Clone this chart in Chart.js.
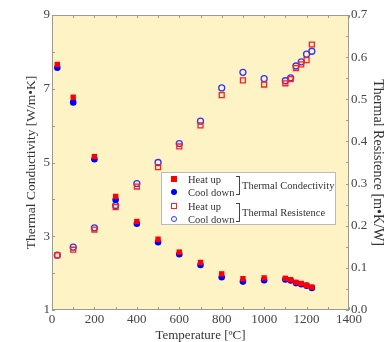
<!DOCTYPE html>
<html>
<head>
<meta charset="utf-8">
<script src="https://cdn.jsdelivr.net/npm/chart.js@4"></script>
<style>
  body { margin: 0; background: #fff; }
  #wrap { position: relative; width: 384px; height: 342px; }
  #legend {
    position: absolute; left: 161px; top: 172px; width: 175px; height: 53px;
    box-sizing: border-box; background: #fff; border: 1px solid #bbb;
    font: 10.5px "Liberation Serif", "DejaVu Serif", serif; color: #333;
  }
  #legend .mk { position: absolute; box-sizing: border-box; }
  #legend .txt { position: absolute; left: 26px; height: 13px; line-height: 13px; white-space: nowrap; }
  #legend .br { position: absolute; left: 74px; width: 4px; box-sizing: border-box;
    border: 1px solid #444; border-left: none; }
  #legend .grp { position: absolute; left: 80px; height: 13px; line-height: 13px; white-space: nowrap; }
</style>
</head>
<body>
<div id="wrap">
  <canvas id="chart" width="384" height="342"></canvas>
  <div id="legend">
    <div class="mk" style="left:9px;top:3px;width:6px;height:6px;background:#f00;"></div>
    <div class="txt" style="top:0px;">Heat up</div>
    <div class="mk" style="left:9px;top:16px;width:6px;height:6px;border-radius:50%;background:#00f;"></div>
    <div class="txt" style="top:13px;">Cool down</div>
    <div class="br" style="top:3px;height:19px;"></div>
    <div class="grp" style="top:6px;">Thermal Condectivity</div>

    <div class="mk" style="left:9px;top:30px;width:6px;height:6px;border:1.5px solid #f22;"></div>
    <div class="txt" style="top:27px;">Heat up</div>
    <div class="mk" style="left:9px;top:43px;width:6px;height:6px;border-radius:50%;border:1.5px solid #33f;"></div>
    <div class="txt" style="top:40px;">Cool down</div>
    <div class="br" style="top:30px;height:19px;"></div>
    <div class="grp" style="top:33px;">Thermal Resistence</div>
  </div>
</div>
<script>
// temperatures [°C]
const temps = [25, 100, 200, 300, 400, 500, 600, 700, 800, 900, 1000, 1100, 1125, 1150, 1175, 1200, 1225];

// thermal conductivity [W/m·K]
const kHeat = [7.66, 6.77, 5.16, 4.08, 3.40, 2.92, 2.57, 2.29, 1.98, 1.85, 1.87, 1.86, 1.82, 1.75, 1.72, 1.67, 1.62];
const kCool = [7.57, 6.63, 5.09, 3.99, 3.34, 2.84, 2.51, 2.22, 1.89, 1.77, 1.81, 1.83, 1.80, 1.73, 1.70, 1.66, 1.60];

// thermal resistance [m·K/W]
const rHeat = [0.130, 0.143, 0.191, 0.244, 0.293, 0.339, 0.388, 0.438, 0.510, 0.545, 0.535, 0.538, 0.548, 0.574, 0.583, 0.593, 0.630];
const rCool = [0.130, 0.149, 0.195, 0.248, 0.300, 0.350, 0.395, 0.448, 0.527, 0.564, 0.549, 0.544, 0.551, 0.579, 0.589, 0.607, 0.614];

// axis ticks
const xTicks = [0, 200, 400, 600, 800, 1000, 1200, 1400];
const kTicks = [1, 3, 5, 7, 9];
const rTicks = [0.0, 0.1, 0.2, 0.3, 0.4, 0.5, 0.6, 0.7];

const serif = '"Liberation Serif", "DejaVu Serif", serif';
const pts = arr => temps.map((t, i) => ({ x: t, y: arr[i] }));

// yellow plot background, frame and inward minor ticks
const frame = {
  id: 'frame',
  beforeDraw(chart) {
    const { ctx, chartArea: a } = chart;
    ctx.save();
    ctx.fillStyle = '#fdf3c5';
    ctx.fillRect(a.left, a.top, a.width, a.height);
    ctx.restore();
  },
  beforeDatasetsDraw(chart) {
    const { ctx, chartArea: a, scales } = chart;
    ctx.save();
    ctx.strokeStyle = '#9a9a9a';
    ctx.lineWidth = 1;
    ctx.strokeRect(a.left + 0.5, a.top + 0.5, a.width - 1, a.height - 1);
    ctx.beginPath();
    for (let t = xTicks[0]; t <= xTicks[xTicks.length - 1]; t += 100) {
      const x = Math.round(scales.x.getPixelForValue(t)) + 0.5;
      ctx.moveTo(x, a.bottom); ctx.lineTo(x, a.bottom - 3);
      ctx.moveTo(x, a.top); ctx.lineTo(x, a.top + 3);
    }
    for (let k = kTicks[0]; k <= kTicks[kTicks.length - 1]; k += 1) {
      const y = Math.round(scales.y.getPixelForValue(k)) + 0.5;
      ctx.moveTo(a.left, y); ctx.lineTo(a.left + 3, y);
    }
    for (let i = 0; i <= 14; i++) {
      const y = Math.round(scales.y2.getPixelForValue(i * 0.05)) + 0.5;
      ctx.moveTo(a.right, y); ctx.lineTo(a.right - 3, y);
    }
    ctx.stroke();
    ctx.restore();
  }
};

new Chart(document.getElementById('chart'), {
  type: 'scatter',
  data: {
    datasets: [
      { label: 'Heat up', data: pts(kHeat), yAxisID: 'y', pointStyle: 'rect', pointRadius: 3.8,
        backgroundColor: '#ff0000', borderColor: '#ff0000', borderWidth: 0 },
      { label: 'Cool down', data: pts(kCool), yAxisID: 'y', pointStyle: 'circle', pointRadius: 3.3,
        backgroundColor: '#0000ff', borderColor: '#0000ff', borderWidth: 0 },
      { label: 'Heat up', data: pts(rHeat), yAxisID: 'y2', pointStyle: 'rect', pointRadius: 3.5,
        backgroundColor: 'rgba(0,0,0,0)', borderColor: '#ff2020', borderWidth: 1.3 },
      { label: 'Cool down', data: pts(rCool), yAxisID: 'y2', pointStyle: 'circle', pointRadius: 3,
        backgroundColor: 'rgba(0,0,0,0)', borderColor: '#3333ff', borderWidth: 1.3 }
    ]
  },
  options: {
    responsive: false,
    animation: false,
    layout: { padding: { top: 15, left: 0, right: 0, bottom: 0 } },
    plugins: { legend: { display: false }, tooltip: { enabled: false } },
    scales: {
      x: {
        type: 'linear', min: 0, max: 1400,
        afterBuildTicks: s => { s.ticks = xTicks.map(v => ({ value: v })); },
        afterFit: s => { s.height = 32; },
        grid: { display: false, drawTicks: false },
        border: { display: false },
        ticks: { padding: 2, color: '#444', font: { family: serif, size: 13 }, maxRotation: 0,
          callback: v => String(v) },
        title: { display: true, text: 'Temperature [ºC]', color: '#333',
          font: { family: serif, size: 13 }, padding: { top: 0, bottom: -1.8 } }
      },
      y: {
        position: 'left', min: 1, max: 9,
        afterBuildTicks: s => { s.ticks = kTicks.map(v => ({ value: v })); },
        afterFit: s => { s.width = 52; },
        grid: { display: false, drawTicks: false },
        border: { display: false },
        ticks: { padding: 2, color: '#444', font: { family: serif, size: 13 } },
        title: { display: true, text: 'Thermal Conductivity [W/m•K]', color: '#333',
          font: { family: serif, size: 13.5 }, padding: { top: 23, bottom: 0 } }
      },
      y2: {
        position: 'right', min: 0, max: 0.7,
        afterBuildTicks: s => { s.ticks = rTicks.map(v => ({ value: v })); },
        afterFit: s => { s.width = 35; },
        grid: { display: false, drawTicks: false },
        border: { display: false },
        ticks: { padding: 2, color: '#444', font: { family: serif, size: 13 },
          callback: v => v.toFixed(1) },
        title: { display: true, text: 'Thermal Resistence [m•K/W]', color: '#333',
          font: { family: serif, size: 14 }, padding: { top: -2.5, bottom: 0 } }
      }
    }
  },
  plugins: [frame]
});
</script>
</body>
</html>
